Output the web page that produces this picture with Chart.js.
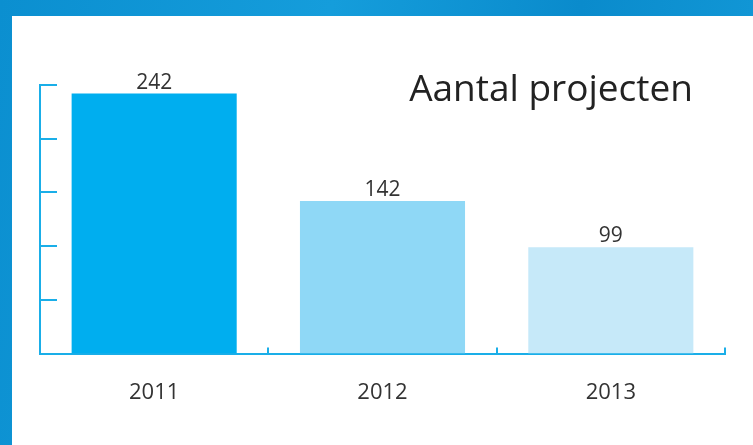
<!DOCTYPE html>
<html>
<head>
<meta charset="utf-8">
<script src="https://cdn.jsdelivr.net/npm/chart.js@4"></script>
<style>
  html, body { margin: 0; padding: 0; }
  body {
    width: 753px; height: 445px; overflow: hidden;
    background: linear-gradient(100deg, #0b8fd0 0%, #159ddb 40%, #0a8bcc 70%, #149bd9 100%);
    font-family: "Open Sans", sans-serif;
  }
  #panel {
    position: absolute; left: 12px; top: 16px;
    width: 741px; height: 429px; background: #fff;
  }
  #title {
    position: absolute; right: 60px; top: 52px;
    font-size: 37px; color: #222; line-height: 1;
  }
</style>
</head>
<body>
<div id="panel">
  <canvas id="chart" width="741" height="429"></canvas>
  <div id="title">Aantal projecten</div>
</div>
<script>
const categories = ['2011', '2012', '2013'];
const values = [242, 142, 99];
const barColors = ['#00aeef', '#8fd8f6', '#c6e9f9'];
const yTicks = [0, 50, 100, 150, 200, 250];

const axisBlue = '#1aaee8';

// value above each bar + inward tick marks on both axes
const extras = {
  id: 'extras',
  afterDatasetsDraw(chart) {
    const ctx = chart.ctx;
    const meta = chart.getDatasetMeta(0);
    ctx.save();
    ctx.fillStyle = '#333';
    ctx.font = '21px "Open Sans"';
    ctx.textAlign = 'center';
    ctx.textBaseline = 'alphabetic';
    meta.data.forEach((bar, i) => {
      ctx.fillText(values[i], bar.x, bar.y - 5);
    });
    ctx.restore();
  },
  afterDraw(chart) {
    const ctx = chart.ctx;
    const area = chart.chartArea;
    const x = chart.scales.x;
    const y = chart.scales.y;
    ctx.save();
    ctx.strokeStyle = axisBlue;
    ctx.lineWidth = 2;
    ctx.beginPath();
    yTicks.forEach(v => {
      const py = Math.round(y.getPixelForValue(v));
      ctx.moveTo(area.left, py);
      ctx.lineTo(area.left + 17, py);
    });
    for (let i = 0; i <= categories.length; i++) {
      const px = Math.round(x.getPixelForValue(i - 0.5));
      ctx.moveTo(px, area.bottom);
      ctx.lineTo(px, area.bottom - 6);
    }
    ctx.stroke();
    ctx.restore();
  }
};

new Chart(document.getElementById('chart'), {
  type: 'bar',
  data: {
    labels: categories,
    datasets: [{
      data: values,
      backgroundColor: barColors,
      borderWidth: 0,
      categoryPercentage: 0.723,
      barPercentage: 1
    }]
  },
  options: {
    responsive: false,
    animation: false,
    layout: { padding: { left: 28, right: 28, top: 69, bottom: 13 } },
    plugins: {
      legend: { display: false },
      tooltip: { enabled: false }
    },
    scales: {
      x: {
        grid: { display: false, drawTicks: false },
        border: { display: true, color: axisBlue, width: 2 },
        ticks: { color: '#333', font: { family: 'Open Sans', size: 22 }, padding: 26 }
      },
      y: {
        min: 0,
        max: 250,
        grid: { display: false, drawTicks: false },
        border: { display: true, color: axisBlue, width: 2 },
        ticks: { display: false, stepSize: 50 }
      }
    }
  },
  plugins: [extras]
});
</script>
</body>
</html>
